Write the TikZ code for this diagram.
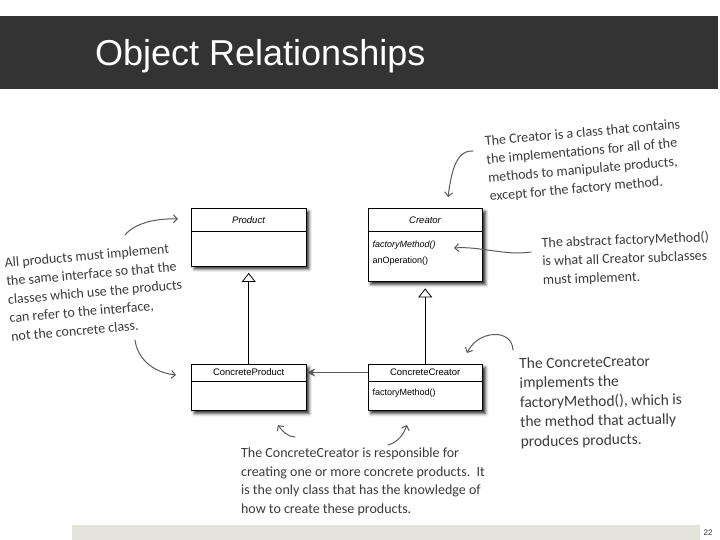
\documentclass[tikz,border=0pt]{standalone}
\usepackage{fontspec}
\setmainfont{Liberation Sans}
\newfontfamily\handfont{Carlito}
\usetikzlibrary{arrows.meta,shadows.blur,calc}
\definecolor{barcol}{HTML}{333333}
\definecolor{stripcol}{HTML}{E4E4DD}
\definecolor{inkcol}{HTML}{3A3A3A}
\definecolor{arrowcol}{HTML}{5A5A5A}
\begin{document}
\begin{tikzpicture}[x=1pt,y=-1pt,
 umlbox/.style={draw=black, line width=0.9pt, fill=white, inner sep=0pt, anchor=north west,
   blur shadow={shadow xshift=3pt, shadow yshift=-3pt, shadow blur radius=3pt, shadow opacity=85}},
 clsname/.style={font=\fontsize{9.5}{10}\selectfont, inner sep=0pt},
 member/.style={font=\fontsize{9}{10}\selectfont, inner sep=0pt, anchor=west},
 divider/.style={draw=black, line width=0.8pt},
 inherit/.style={draw=black, line width=0.8pt, -{Triangle[open, width=14pt, length=9pt, line width=0.8pt]}, shorten >=6.5pt},
 assoc/.style={draw=arrowcol, line width=0.9pt, -{Stealth[length=9pt, width=8pt, inset=3pt]}},
 note/.style={font=\handfont\fontsize{14}{18.5}\selectfont, text=inkcol, align=left, inner sep=0pt},
 hand/.style={draw=arrowcol, line width=1pt, line cap=round, -{Straight Barb[length=4pt, width=8pt, line width=1pt]}},
]
\useasboundingbox (0,0) rectangle (720,540);
% title bar
\fill[barcol] (0,16) rectangle (718,89);
\node[anchor=base west, text=white, font=\fontsize{36}{40}\selectfont, inner sep=0pt] (title) at (95,66) {Object Relationships};
% footer strip
\fill[stripcol] (72,525) rectangle (700,540);
\node[font=\fontsize{8}{9}\selectfont, text=black!80, inner sep=0pt] (pagenum) at (708,533) {22};

% UML classes
\node[umlbox, minimum width=114.5pt, minimum height=57.5pt] (product) at (191,208) {};
\draw[divider] ([yshift=-23.5pt]product.north west) -- ([yshift=-23.5pt]product.north east);
\node[clsname] (productname) at ([yshift=-11.75pt]product.north) {\textit{Product}};

\node[umlbox, minimum width=114.5pt, minimum height=73pt] (creator) at (367.5,208) {};
\draw[divider] ([yshift=-23.5pt]creator.north west) -- ([yshift=-23.5pt]creator.north east);
\node[clsname] (creatorname) at ([yshift=-11.75pt]creator.north) {\textit{Creator}};
\node[member] (cfm) at (372.5,245) {\textit{factoryMethod()}};
\node[member] (cop) at (372.5,261.5) {anOperation()};

\node[umlbox, minimum width=114.5pt, minimum height=46pt] (cproduct) at (191,364) {};
\draw[divider] ([yshift=-17pt]cproduct.north west) -- ([yshift=-17pt]cproduct.north east);
\node[clsname] (cproductname) at ([yshift=-8.5pt]cproduct.north) {ConcreteProduct};

\node[umlbox, minimum width=114.5pt, minimum height=46pt] (ccreator) at (367.5,364) {};
\draw[divider] ([yshift=-17pt]ccreator.north west) -- ([yshift=-17pt]ccreator.north east);
\node[clsname] (ccreatorname) at ([yshift=-8.5pt]ccreator.north) {ConcreteCreator};
\node[member] (ccfm) at (372.5,393) {factoryMethod()};

% relations
\draw[inherit] (cproduct.north) -- (product.south);
\draw[inherit] (ccreator.north) -- (creator.south);
\draw[assoc] (ccreatorname -| ccreator.west) -- (ccreatorname -| cproduct.east);

% annotations
\node[note, rotate=5] (noteleft) at (95,292) {All products must implement\\the same interface so that the\\classes which use the products\\can refer to the interface,\\not the concrete class.};
\node[note, rotate=5] (notecreator) at (585,161) {The Creator is a class that contains\\the implementations for all of the\\methods to manipulate products,\\except for the factory method.};
\node[note, rotate=2] (noteabstract) at (626,259) {The abstract factoryMethod()\\is what all Creator subclasses\\must implement.};
\node[note, font=\handfont\fontsize{15.5}{19.5}\selectfont, rotate=1] (noteconcrete) at (601,402) {The ConcreteCreator\\implements the\\factoryMethod(), which is\\the method that actually\\produces products.};
\node[note] (notebottom) at (363,482) {The ConcreteCreator is responsible for\\creating one or more concrete products.\ \ It\\is the only class that has the knowledge of\\how to create these products.};

% hand-drawn arrows
\coordinate (h1s) at (125,235); \coordinate (h1e) at (178,219);
\coordinate (h2s) at (135,340); \coordinate (h2e) at (176,375);
\coordinate (h3s) at (473,151); \coordinate (h3e) at (448,197);
\coordinate (h4s) at (531,252); \coordinate (h4e) at (454,248);
\coordinate (h5s) at (513,350); \coordinate (h5e) at (467,353);
\coordinate (h6s) at (295,437); \coordinate (h6e) at (278,425);
\coordinate (h7s) at (388,445); \coordinate (h7e) at (407,425);
\draw[hand] (h1s) .. controls (132,226) and (150,218) .. (h1e);
\draw[hand] (h2s) .. controls (137,356) and (150,372) .. (h2e);
\draw[hand] (h3s) .. controls (455,150) and (451,175) .. (h3e);
\draw[hand] (h4s) .. controls (505,256) and (480,246) .. (h4e);
\draw[hand] (h5s) .. controls (512,328) and (478,330) .. (h5e);
\draw[hand] (h6s) .. controls (288,437) and (282,431) .. (h6e);
\draw[hand] (h7s) .. controls (399,442) and (404,433) .. (h7e);
\end{tikzpicture}
\end{document}
